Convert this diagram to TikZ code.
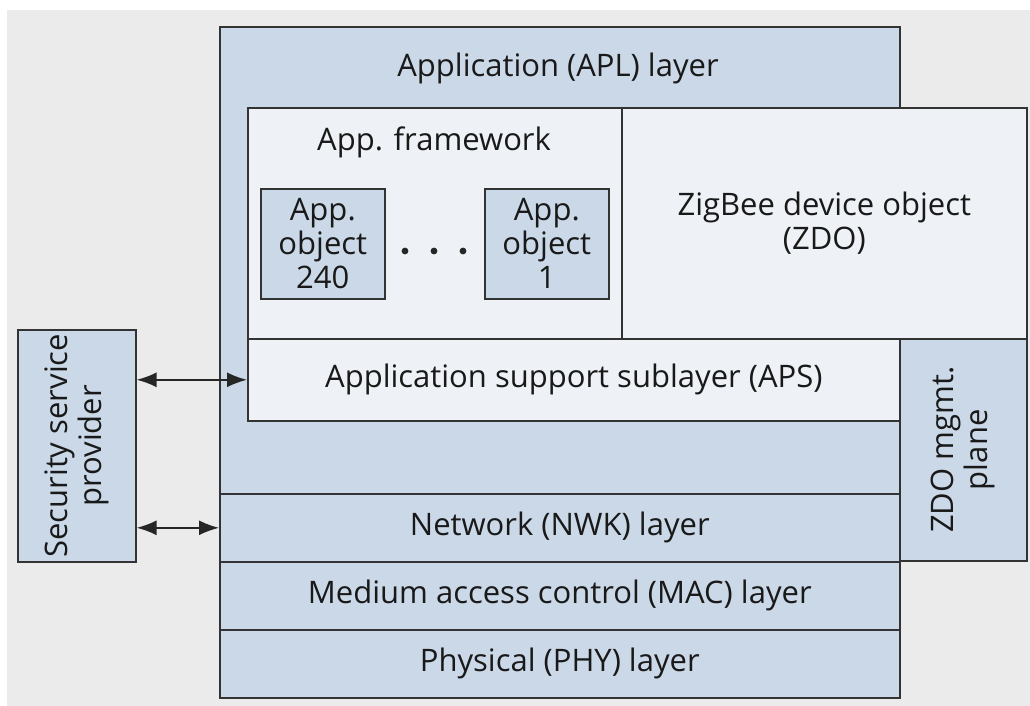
\documentclass[tikz,border=0pt]{standalone}
\usepackage{fontspec}
\setmainfont{Open Sans}
\usetikzlibrary{arrows.meta}
\definecolor{layerblue}{HTML}{CAD8E8}
\definecolor{framewhite}{HTML}{EEF2F6}
\definecolor{backgray}{HTML}{EBEBEB}
\definecolor{edgegray}{HTML}{333333}

\begin{document}
\begin{tikzpicture}[
        x=1pt, y=-1pt,
        font=\fontsize{31}{34}\selectfont,
        box/.style={draw=edgegray, line width=1.6pt, inner sep=0pt, anchor=north west, align=center, text=black!90},
        layer/.style={box, fill=layerblue},
        frame/.style={box, fill=framewhite},
        caption/.style={align=center, text=black!90},
        arrow/.style={<->, >={Latex[length=20pt,width=15pt]}, line width=1.8pt, draw=black!85}
    ]
        % Background
        \useasboundingbox (0,0) rectangle (1030,706);
        \fill[backgray] (7,10) rectangle (1030,706);

        % Application layer
        \node[layer, minimum width=680pt, minimum height=467pt] (apl) at (219,26) {};
        \node[caption] (apllabel) at (558,68) {Application (APL) layer};

        % App framework and ZDO
        \node[frame, minimum width=374pt, minimum height=231pt] (afw) at (247,107) {};
        \node[caption] (afwlabel) at (434,142) {App. framework};
        \node[frame, minimum width=405pt, minimum height=231pt] (zdo) at (621,107) {ZigBee device object\\(ZDO)};

        % App objects
        \node[layer, minimum width=124pt, minimum height=110pt] (obj240) at (260,188) {App.\\object\\240};
        \node[layer, minimum width=124pt, minimum height=110pt] (obj1) at (484,188) {App.\\object\\1};
        \foreach \x in {405,434,463}
            \fill[black!85] (\x,251) circle (3.4);

        % Support sublayer and management plane
        \node[frame, minimum width=652pt, minimum height=82pt] (aps) at (247,338) {Application support sublayer (APS)};
        \node[layer, minimum width=127pt, minimum height=222pt] (mgmt) at (899,338) {};
        \node[caption, rotate=90] (mgmtlabel) at (mgmt.center) {ZDO mgmt.\\plane};

        % Lower layers
        \foreach \n/\y/\t in {nwk/493/Network (NWK) layer, mac/561/Medium access control (MAC) layer, phy/629/Physical (PHY) layer}
            \node[layer, minimum width=680pt, minimum height=68pt] (\n) at (219,\y) {\t};

        % Security service provider
        \node[layer, minimum width=118pt, minimum height=232pt] (ssp) at (17,329) {};
        \node[caption, rotate=90] (ssplabel) at (ssp.center) {Security service\\provider};

        % Arrows
        \draw[arrow] (ssp.east |- aps.west) -- (aps.west);
        \draw[arrow] (ssp.east |- nwk.west) -- (nwk.west);

    \end{tikzpicture}
\end{document}
